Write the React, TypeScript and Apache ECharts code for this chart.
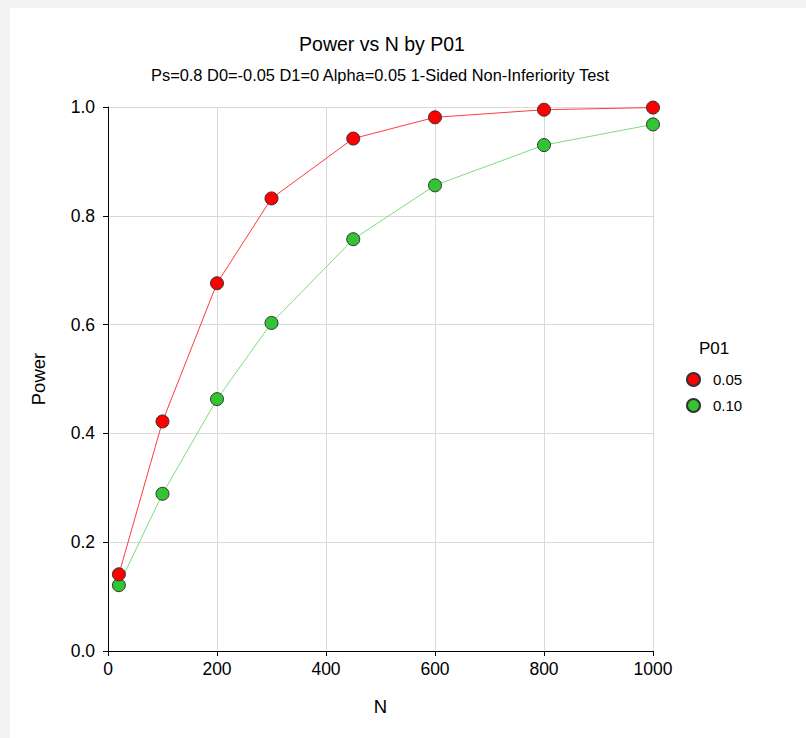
import React, { useEffect, useRef } from "react";
import * as echarts from "echarts";

const nValues = [20, 100, 200, 300, 450, 600, 800, 1000];
const power005 = [0.141, 0.422, 0.676, 0.832, 0.942, 0.981, 0.995, 0.999];
const power010 = [0.121, 0.289, 0.463, 0.603, 0.757, 0.856, 0.930, 0.968];
const seriesNames = ["0.05", "0.10"];
const legendTitle = "P01";
const titleText = "Power vs N by P01";
const subtitleText = "Ps=0.8 D0=-0.05 D1=0 Alpha=0.05 1-Sided Non-Inferiority Test";

const FONT = "Arial, 'Liberation Sans', sans-serif";

export default function App() {
  const ref = useRef<HTMLDivElement>(null);
  useEffect(() => {
    if (!ref.current) return;
    const chart = echarts.init(ref.current, undefined, { renderer: "svg" });
    const pair = (ys: number[]) => nValues.map((n, i) => [n, ys[i]]);
    chart.setOption({
      animation: false,
      backgroundColor: "#ffffff",
      textStyle: { fontFamily: FONT },
      graphic: [
        { type: "rect", shape: { x: 0, y: 0, width: 806, height: 8 }, style: { fill: "#f4f4f4" }, silent: true },
        { type: "rect", shape: { x: 0, y: 0, width: 10, height: 738 }, style: { fill: "#f4f4f4" }, silent: true },
        {
          type: "text",
          left: 699,
          top: 340,
          style: { text: legendTitle, fill: "#000", font: `17px ${FONT}` },
        },
      ],
      title: [
        {
          text: titleText,
          left: 377,
          top: 29,
          textAlign: "center",
          textStyle: { fontSize: 19.5, fontWeight: "normal", color: "#000", fontFamily: FONT },
        },
        {
          text: subtitleText,
          left: 375,
          top: 62,
          textAlign: "center",
          textStyle: { fontSize: 16.4, fontWeight: "normal", color: "#000", fontFamily: FONT },
        },
      ],
      legend: {
        orient: "vertical",
        left: 686,
        top: 372,
        padding: 0,
        icon: "circle",
        itemWidth: 13,
        itemHeight: 13,
        itemGap: 11,
        textStyle: { fontSize: 15, color: "#000", fontFamily: FONT, padding: [0, 0, 0, 8] },
        data: seriesNames,
      },
      grid: { left: 108, right: 153, top: 107, bottom: 87, containLabel: false },
      xAxis: {
        type: "value",
        min: 0,
        max: 1000,
        interval: 200,
        name: "N",
        nameLocation: "middle",
        nameGap: 46,
        nameTextStyle: { fontSize: 18.5, color: "#000", fontFamily: FONT },
        axisLine: { show: true, onZero: false, lineStyle: { color: "#000", width: 1 } },
        axisTick: { show: true, length: 5, lineStyle: { color: "#000" } },
        axisLabel: { fontSize: 17.5, color: "#000", margin: 9, fontFamily: FONT, formatter: (v: number) => String(v) },
        splitLine: { show: true, lineStyle: { color: "#d9d9d9", width: 1 } },
      },
      yAxis: {
        type: "value",
        min: 0,
        max: 1,
        interval: 0.2,
        name: "Power",
        nameLocation: "middle",
        nameGap: 60,
        nameTextStyle: { fontSize: 18.5, color: "#000", fontFamily: FONT },
        axisLine: { show: true, onZero: false, lineStyle: { color: "#000", width: 1 } },
        axisTick: { show: true, length: 5, lineStyle: { color: "#000" } },
        axisLabel: { fontSize: 17.5, color: "#000", margin: 13, fontFamily: FONT, formatter: (v: number) => v.toFixed(1) },
        splitLine: { show: true, lineStyle: { color: "#d9d9d9", width: 1 } },
      },
      series: [
        {
          name: seriesNames[0],
          type: "line",
          data: pair(power005),
          symbol: "circle",
          symbolSize: 13,
          lineStyle: { color: "#ff3b3b", width: 1 },
          itemStyle: { color: "#ff0000", borderColor: "#333", borderWidth: 1 },
          z: 3,
        },
        {
          name: seriesNames[1],
          type: "line",
          data: pair(power010),
          symbol: "circle",
          symbolSize: 13,
          lineStyle: { color: "#7fdc7f", width: 1 },
          itemStyle: { color: "#33c433", borderColor: "#333", borderWidth: 1 },
          z: 2,
        },
      ],
    });
    return () => chart.dispose();
  }, []);
  return (
    <div
      ref={ref}
      style={{ position: "fixed", left: 0, top: 0, width: 806, height: 738 }}
    />
  );
}
